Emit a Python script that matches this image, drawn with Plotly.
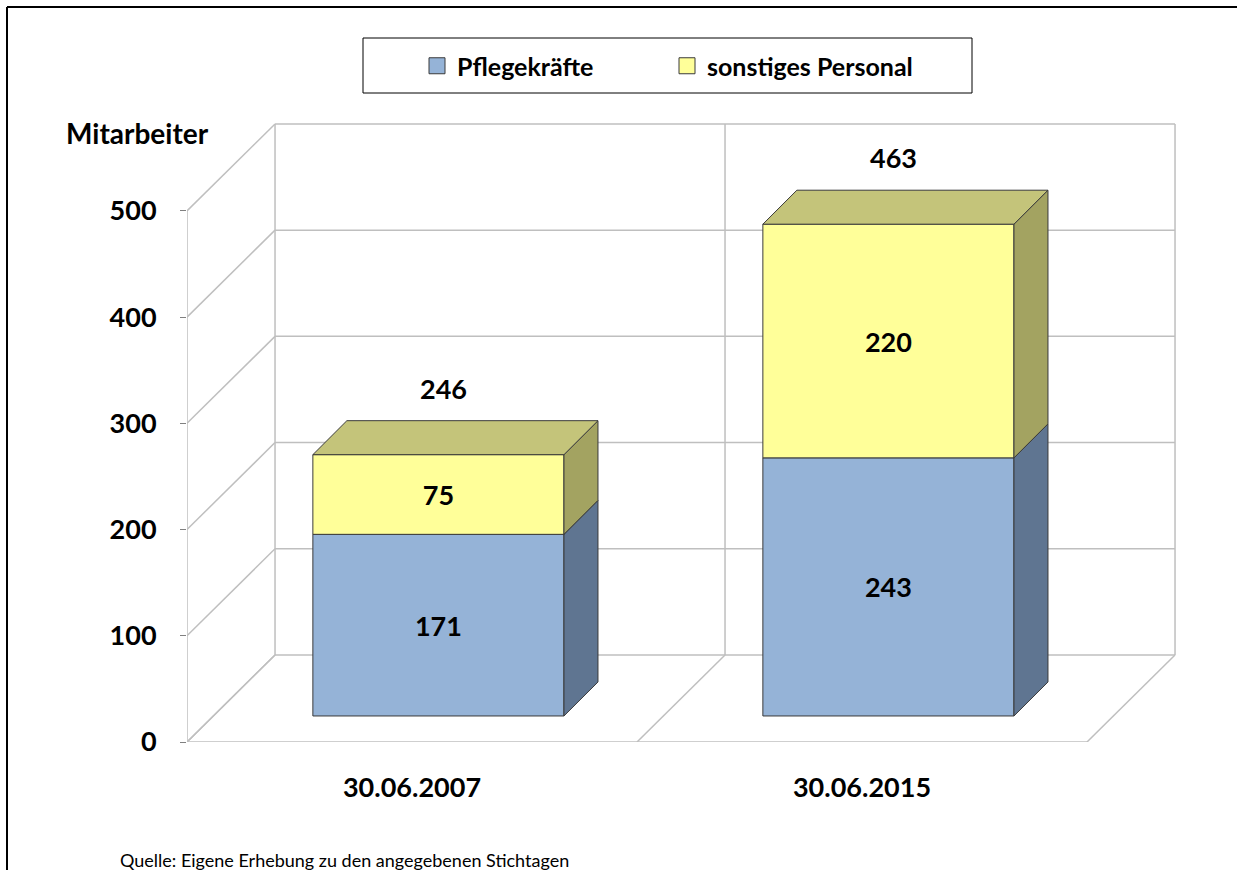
import plotly.graph_objects as go

# ---------------- data ----------------
categories = ["30.06.2007", "30.06.2015"]
pflegekraefte = [171, 243]
sonstiges = [75, 220]
totals = [246, 463]
y_ticks = [0, 100, 200, 300, 400, 500]
series_names = ["Pflegekräfte", "sonstiges Personal"]
source_text = "Quelle: Eigene Erhebung zu den angegebenen Stichtagen"
y_title = "Mitarbeiter"

# ---------------- style / geometry ----------------
W, H = 1237, 870
ML, MR, MT, MB = 187, 37, 100, 128
PW, PH = W - ML - MR, H - MT - MB
X_RANGE = [-0.5, -0.5 + PW / 450.0]
Y_RANGE = [0, PH / 1.0622]

DX, DY = 0.1956, 81.9          # full depth of the 3D box (data units)
FX, FY = 0.0587, 24.5          # bar front offset into depth
BDX, BDY = 0.0756, 32.0        # bar depth
BW = 0.558                     # bar width

BLUE, BLUE_SIDE = "#95B3D7", "#5F7591"
YEL, YEL_TOP, YEL_SIDE = "#FFFF99", "#C4C47A", "#A3A361"
EDGE = "#3A3A3A"
GRID = "#BFBFBF"
FONT = "Lato"

x0, x1 = -0.5, -0.5 + len(categories)
bounds = [x0 + i for i in range(len(categories) + 1)]
ymax = y_ticks[-1]


def px_x(p):
    return (p - ML) / PW


def px_y(p):
    return (H - MB - p) / PH


fig = go.Figure()

# front faces (bars)
base_blue = [FY] * len(categories)
base_yel = [FY + p for p in pflegekraefte]
xc = [i + FX for i in range(len(categories))]
fig.add_trace(go.Bar(
    x=xc, y=pflegekraefte, base=base_blue, width=BW, name=series_names[0],
    marker=dict(color=BLUE, line=dict(color=EDGE, width=1)),
    text=[str(v) for v in pflegekraefte], textposition="inside", insidetextanchor="middle",
    textangle=0, textfont=dict(family=FONT, size=27, color="black", weight="bold"),
    showlegend=False, hoverinfo="skip"))
fig.add_trace(go.Bar(
    x=xc, y=sonstiges, base=base_yel, width=BW, name=series_names[1],
    marker=dict(color=YEL, line=dict(color=EDGE, width=1)),
    text=[str(v) for v in sonstiges], textposition="inside", insidetextanchor="middle",
    textangle=0, textfont=dict(family=FONT, size=27, color="black", weight="bold"),
    showlegend=False, hoverinfo="skip"))


def side_poly(xr, ya, yb):
    return [xr, xr + BDX, xr + BDX, xr, xr, None], [ya, ya + BDY, yb + BDY, yb, ya, None]


bsx, bsy, ysx, ysy, tx, ty = [], [], [], [], [], []
for i in range(len(categories)):
    xl = xc[i] - BW / 2
    xr = xc[i] + BW / 2
    a, b = side_poly(xr, FY, FY + pflegekraefte[i])
    bsx += a; bsy += b
    top = FY + pflegekraefte[i] + sonstiges[i]
    a, b = side_poly(xr, FY + pflegekraefte[i], top)
    ysx += a; ysy += b
    tx += [xl, xr, xr + BDX, xl + BDX, xl, None]
    ty += [top, top, top + BDY, top + BDY, top, None]

for px_, py_, col in [(bsx, bsy, BLUE_SIDE), (ysx, ysy, YEL_SIDE), (tx, ty, YEL_TOP)]:
    fig.add_trace(go.Scatter(x=px_, y=py_, fill="toself", fillcolor=col, mode="lines",
                             line=dict(color=EDGE, width=1), showlegend=False, hoverinfo="skip"))

# legend entries
for name, col in zip(series_names, [BLUE, YEL]):
    fig.add_trace(go.Scatter(x=[None], y=[None], mode="markers", name=name,
                             marker=dict(symbol="square", size=17, color=col,
                                         line=dict(color=EDGE, width=1))))

# ---------------- grid (3D walls) ----------------
shapes = []


def gline(xa, ya, xb, yb):
    shapes.append(dict(type="line", xref="x", yref="y", x0=xa, y0=ya, x1=xb, y1=yb,
                       line=dict(color=GRID, width=1.5), layer="below"))


for v in y_ticks:
    gline(x0, v, x0 + DX, v + DY)                 # left wall
    gline(x0 + DX, v + DY, x1 + DX, v + DY)       # back wall
gline(x0, 0, x1, 0)                               # floor front edge
gline(x0, 0, x0, ymax)                            # left wall front edge
for b in bounds:
    gline(b, 0, b + DX, DY)                       # floor diagonals
    gline(b + DX, DY, b + DX, ymax + DY)          # back wall verticals
    gline(b, 0, b, -10)                           # category ticks

# legend box
shapes.append(dict(type="rect", xref="paper", yref="paper",
                   x0=px_x(363), x1=px_x(972), y0=px_y(93), y1=px_y(38),
                   line=dict(color="black", width=1), fillcolor="white", layer="below"))
# chart frame (top & left visible)
shapes.append(dict(type="line", xref="paper", yref="paper", x0=px_x(7), x1=px_x(W + 5),
                   y0=px_y(7), y1=px_y(7), line=dict(color="black", width=2)))
shapes.append(dict(type="line", xref="paper", yref="paper", x0=px_x(7), x1=px_x(7),
                   y0=px_y(7), y1=px_y(H + 5), line=dict(color="black", width=2)))

annotations = []
for i, t in enumerate(totals):
    annotations.append(dict(x=xc[i] + 0.012, y=t + 87, xref="x", yref="y", text=str(t),
                            xanchor="center", showarrow=False,
                            font=dict(family=FONT, size=27, color="black", weight="bold")))
annotations.append(dict(x=px_x(137), y=px_y(133), xref="paper", yref="paper", text=y_title,
                        xanchor="center", yanchor="middle", showarrow=False,
                        font=dict(family=FONT, size=28, color="black", weight="bold")))
annotations.append(dict(x=px_x(118), y=px_y(860), xref="paper", yref="paper", text=source_text,
                        xanchor="left", yanchor="middle", showarrow=False,
                        font=dict(family=FONT, size=18, color="black")))

fig.update_layout(
    width=W, height=H, margin=dict(l=ML, r=MR, t=MT, b=MB),
    paper_bgcolor="white", plot_bgcolor="white",
    barmode="overlay", shapes=shapes, annotations=annotations,
    showlegend=True,
    legend=dict(orientation="h", x=px_x(667), y=px_y(66), xanchor="center", yanchor="middle",
                bgcolor="rgba(0,0,0,0)", borderwidth=0, entrywidth=205,
                font=dict(family=FONT, size=25, color="black", weight="bold")),
    xaxis=dict(range=X_RANGE, tickvals=list(range(len(categories))), ticktext=categories,
               showgrid=False, zeroline=False, showline=False, ticks="",
               ticklabelstandoff=27,
               tickfont=dict(family=FONT, size=27, color="black", weight="bold")),
    yaxis=dict(range=Y_RANGE, tickvals=y_ticks, showgrid=False, zeroline=False, showline=False,
               ticks="outside", ticklen=6, tickcolor="#808080", ticklabelstandoff=18,
               tickfont=dict(family=FONT, size=27, color="black", weight="bold")),
)

fig.write_html(
    "out.html",
    config={"displayModeBar": False},
    post_script="document.body.style.margin='0';document.body.style.overflow='hidden';",
)
